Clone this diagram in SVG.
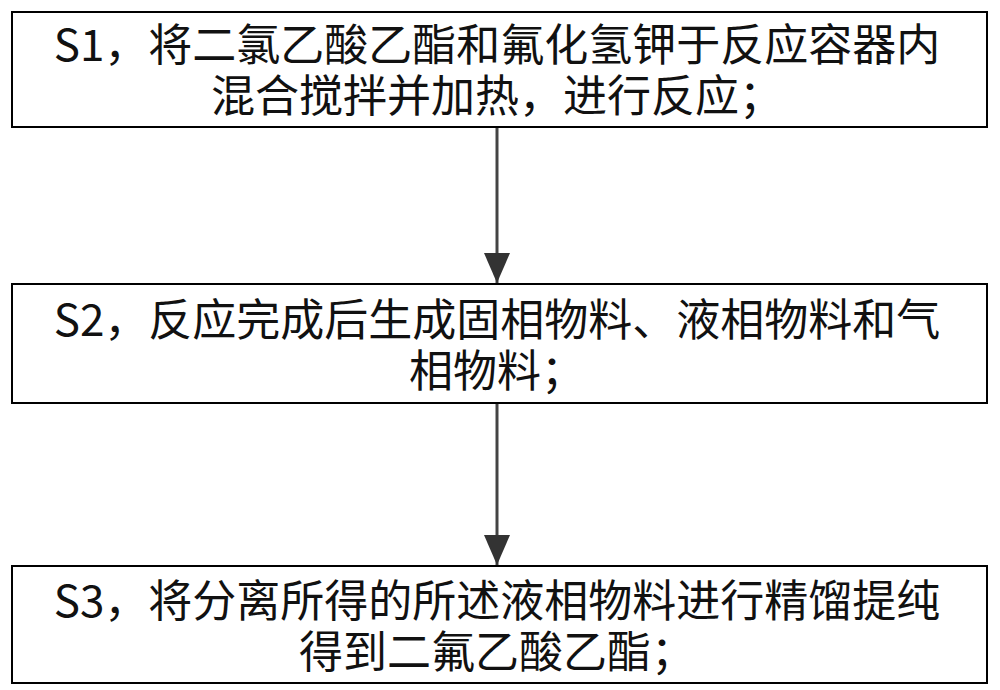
<svg xmlns="http://www.w3.org/2000/svg" width="1000" height="690" viewBox="0 0 1000 690">
<style>
.box{fill:#fff;stroke:#000;stroke-width:2}
text{font-family:"Noto Sans CJK SC","Noto Sans",sans-serif;font-size:44px;text-anchor:middle;fill:#111}
.c{stroke:#444;stroke-width:3;fill:none}
</style>
<defs>
<marker id="b" viewBox="0 0 30 26" refX="30" refY="13" markerWidth="30" markerHeight="26" markerUnits="userSpaceOnUse" orient="auto"><path d="M0,0L30,13L0,26z" fill="#333"/></marker></defs>
<rect width="1000" height="690" fill="#fff"/>
<g id="connectors">
<path class="c" d="M497,128V283" marker-end="url(#b)"/>
<path class="c" d="M497,403V565" marker-end="url(#b)"/>
</g>
<g id="s1"><rect class="box" x="12" y="12" width="975" height="115"/>
<text x="497" y="61">S1，将二氯乙酸乙酯和氟化氢钾于反应容器内</text>
<text x="497" y="112">混合搅拌并加热，进行反应；</text></g>
<g id="s2"><rect class="box" x="12" y="284" width="975" height="119"/>
<text x="497" y="336">S2，反应完成后生成固相物料、液相物料和气</text>
<text x="497" y="387">相物料；</text></g>
<g id="s3"><rect class="box" x="12" y="566" width="975" height="117"/>
<text x="497" y="617">S3，将分离所得的所述液相物料进行精馏提纯</text>
<text x="497" y="668">得到二氟乙酸乙酯；</text></g>
</svg>
